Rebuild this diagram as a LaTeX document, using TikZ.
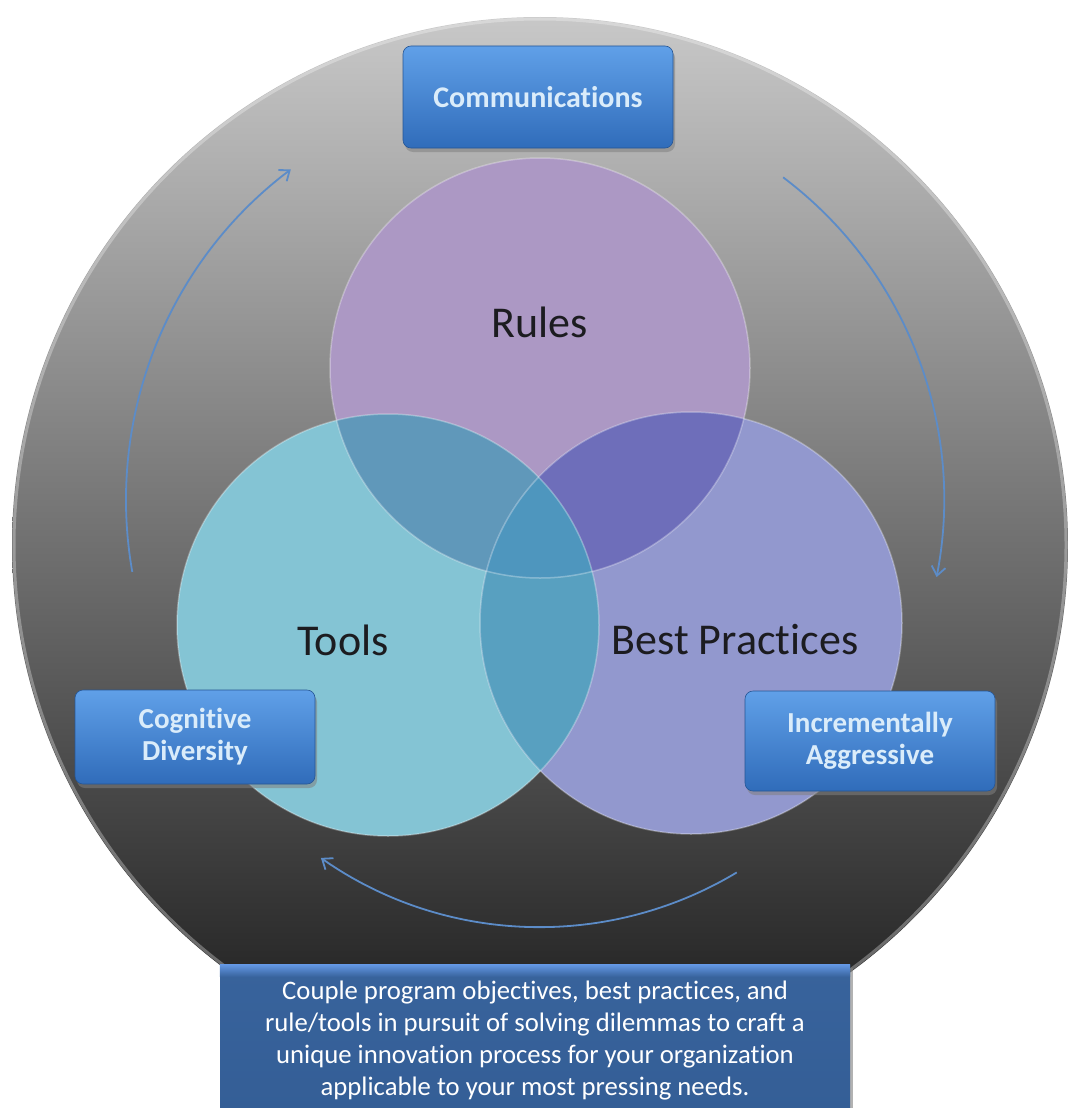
\documentclass[tikz,border=0pt]{standalone}
\usepackage{fontspec}
\setmainfont[Ligatures=NoCommon,RawFeature=-liga]{Carlito}
\usetikzlibrary{shadows,arrows.meta,calc}
\definecolor{bgtop}{RGB}{200,200,200}
\definecolor{bgmid}{RGB}{86,86,86}
\definecolor{bgbot}{RGB}{24,24,24}
\definecolor{rulesc}{RGB}{172,152,196}
\definecolor{toolsc}{RGB}{132,196,212}
\definecolor{bestc}{RGB}{146,152,206}
\definecolor{rtc}{RGB}{96,152,186}
\definecolor{rbc}{RGB}{110,110,186}
\definecolor{tbc}{RGB}{88,160,192}
\definecolor{rtbc}{RGB}{78,150,190}
\definecolor{boxtop}{RGB}{96,160,232}
\definecolor{boxmid}{RGB}{60,127,206}
\definecolor{boxbot}{RGB}{48,108,186}
\definecolor{boxtext}{RGB}{218,236,250}
\definecolor{notetop}{RGB}{98,150,226}
\definecolor{notec}{RGB}{56,99,156}
\definecolor{notebot}{RGB}{52,94,150}
\definecolor{arrowc}{RGB}{92,140,200}
\definecolor{venntext}{RGB}{28,28,32}
\tikzset{
  smallbox/.style={rounded corners=8pt, top color=boxtop, middle color=boxmid, bottom color=boxbot,
    draw=boxbot!80!black, line width=0.6pt,
    drop shadow={opacity=0.55, shadow xshift=2pt, shadow yshift=-4pt},
    text=boxtext, font=\fontsize{29}{32}\selectfont\bfseries, align=center, inner sep=0pt},
  notebox/.style={top color=notec, bottom color=notebot,
    drop shadow={opacity=0.6, shadow xshift=3pt, shadow yshift=-3pt},
    inner sep=0pt},
  notetxt/.style={text=white, font=\fontsize{26.7}{32}\selectfont, align=center, inner sep=0pt},
  venntxt/.style={text=venntext, font=\fontsize{44}{48}\selectfont, inner sep=0pt},
  cyc/.style={draw=arrowc, line width=1.8pt, -{Straight Barb[length=9pt,width=14pt,line width=1.8pt]}},
  vennrim/.style={draw=white, draw opacity=0.3, line width=1.5pt}
}
\begin{document}
\begin{tikzpicture}[x=1pt,y=1pt]
\useasboundingbox (0,0) rectangle (1072,-1108);
\fill[white] (0,0) rectangle (1072,-1108);
% big disc
\coordinate (C) at (540,-545);
\shade[top color=bgtop, middle color=bgmid, bottom color=bgbot] (C) circle[radius=528pt];
\draw[white, opacity=0.3, line width=3pt] (C) circle[radius=526pt];
% Venn circles
\coordinate (cR) at (540,-368);
\coordinate (cT) at (388,-625);
\coordinate (cB) at (691,-623);
\fill[rulesc] (cR) circle[radius=210pt];
\fill[toolsc] (cT) circle[radius=211pt];
\fill[bestc] (cB) circle[radius=211pt];
\begin{scope}
  \clip (cR) circle[radius=210pt];
  \fill[rtc] (cT) circle[radius=211pt];
  \fill[rbc] (cB) circle[radius=211pt];
\end{scope}
\begin{scope}
  \clip (cT) circle[radius=211pt];
  \fill[tbc] (cB) circle[radius=211pt];
  \clip (cB) circle[radius=211pt];
  \fill[rtbc] (cR) circle[radius=210pt];
\end{scope}
\draw[vennrim] (cR) circle[radius=210pt];
\draw[vennrim] (cT) circle[radius=211pt];
\draw[vennrim] (cB) circle[radius=211pt];
% Venn labels
\node[venntxt] (rules) at (540,-322) {Rules};
\node[venntxt] (tools) at (343,-640) {Tools};
\node[venntxt] (best) at (735,-640) {Best Practices};
% cycle arrows
\coordinate (CA) at (540,-500);
\coordinate (a1) at ($(CA)+(190:414pt)$);
\coordinate (a2) at ($(CA)+(53:404pt)$);
\coordinate (CB) at (540,-545);
\coordinate (a3) at ($(CB)+(-59:382pt)$);
\draw[cyc] (a1) arc[start angle=190, end angle=127, radius=414pt];
\draw[cyc] (a2) arc[start angle=53, end angle=-11, radius=404pt];
\draw[cyc] (a3) arc[start angle=-59, end angle=-125, radius=382pt];
% boxes
\node[smallbox, minimum width=270pt, minimum height=102pt, font=\fontsize{30}{32}\selectfont\bfseries] (comm) at (538,-97) {Communications};
\node[smallbox, minimum width=240pt, minimum height=94pt] (cog) at (195,-737) {Cognitive\\Diversity};
\node[smallbox, minimum width=250pt, minimum height=100pt] (inc) at (870,-741) {Incrementally\\Aggressive};
\node[notebox, minimum width=630pt, minimum height=150pt] (note) at (535,-1040) {};
\shade[top color=notetop, bottom color=notec] (note.north west) rectangle ($(note.north east)+(0,-12)$);
\node[notetxt, anchor=north] (notetext) at ($(note.north)+(0,-16)$) {Couple program objectives, best practices, and\\rule/tools in pursuit of solving dilemmas to craft a\\unique innovation process for your organization\\applicable to your most pressing needs.};
\end{tikzpicture}
\end{document}
